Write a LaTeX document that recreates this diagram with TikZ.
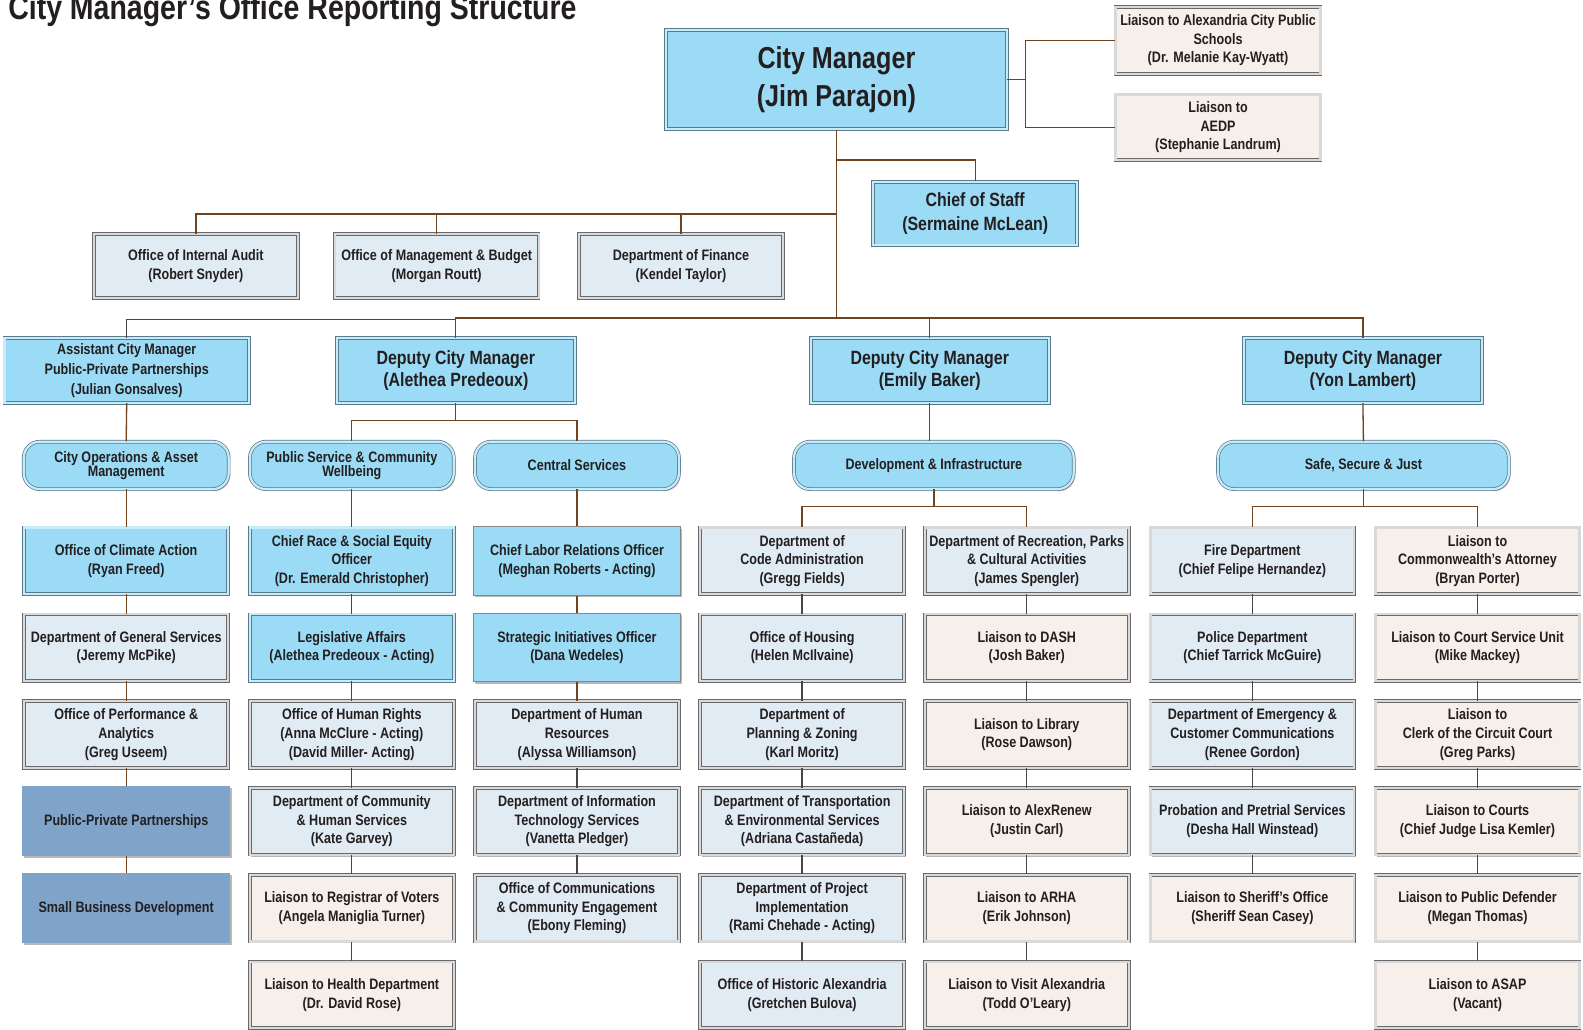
\documentclass[tikz,border=0pt]{standalone}
\usepackage{fontspec}
\setmainfont{Liberation Sans}[FakeStretch=0.83]
\usetikzlibrary{shadows}
\definecolor{sky}{RGB}{155,219,246}
\definecolor{pale}{RGB}{224,235,243}
\definecolor{beige}{RGB}{247,239,233}
\definecolor{steel}{RGB}{128,163,201}
\definecolor{bgrey}{RGB}{105,105,108}
\definecolor{bblue}{RGB}{90,122,142}
\definecolor{brn}{RGB}{112,66,30}
\definecolor{gline}{RGB}{70,70,72}
\definecolor{txt}{RGB}{35,31,32}
\tikzset{
  base/.style={rectangle, align=center, inner sep=0pt, text=txt,
    font=\bfseries\fontsize{15}{18.5}\selectfont,
    minimum width=202pt, minimum height=66pt,
    drop shadow={shadow xshift=1.5pt, shadow yshift=-2pt, opacity=0.28, fill=black}},
  dbl/.style={draw=bgrey, line width=0.7pt, double=gray!30, double distance=2.2pt},
  palebox/.style={base, dbl, fill=pale},
  beigebox/.style={base, dbl, fill=beige},
  skybox/.style={base, fill=sky, draw=bblue, line width=0.7pt, double=sky!55!white, double distance=2.2pt},
  skysingle/.style={base, fill=sky, draw=bgrey!80, line width=1pt},
  steelbox/.style={base, fill=steel, draw=none},
  rndbox/.style={base, rounded corners=16pt, fill=sky, draw=bblue, line width=0.7pt,
    double=sky!55!white, double distance=2.2pt, minimum height=47pt,
    font=\bfseries\fontsize{15}{14}\selectfont},
  conn/.style={draw=brn, line width=1.3pt},
  gconn/.style={draw=gline, line width=1.3pt},
}
\begin{document}
\begin{tikzpicture}[x=1pt,y=-1pt]
\fill[white] (0,0) rectangle (1568,1020);
\useasboundingbox (0,0) rectangle (1568,1020);

% title
\node[anchor=base west, inner sep=0pt, text=txt, font=\bfseries\fontsize{34}{34}\selectfont] (title) at (8,19) {City Manager’s Office Reporting Structure};

% top level
\node[skybox, minimum width=338pt, minimum height=98pt, font=\bfseries\fontsize{30}{37}\selectfont] (cm) at (828.5,79) {City Manager\\(Jim Parajon)};
\node[beigebox, minimum width=203pt, minimum height=66pt] (lacps) at (1206.5,40) {Liaison to Alexandria City Public\\Schools\\(Dr. Melanie Kay-Wyatt)};
\node[beigebox, minimum width=203pt, minimum height=65pt] (laedp) at (1206.5,126) {Liaison to\\AEDP\\(Stephanie Landrum)};
\node[skybox, minimum width=202pt, minimum height=63pt, font=\bfseries\fontsize{19}{23}\selectfont] (cos) at (966,211.5) {Chief of Staff\\(Sermaine McLean)};

\node[palebox, minimum width=202pt, minimum height=63pt] (audit) at (194,263.5) {Office of Internal Audit\\(Robert Snyder)};
\node[palebox, minimum width=202pt, minimum height=63pt] (omb) at (432.5,263.5) {Office of Management \& Budget\\(Morgan Routt)};
\node[palebox, minimum width=202pt, minimum height=63pt] (fin) at (674.5,263.5) {Department of Finance\\(Kendel Taylor)};

% second level
\node[skybox, minimum width=242pt, minimum height=64pt, font=\bfseries\fontsize{15}{20}\selectfont] (acm) at (125.5,367) {Assistant City Manager\\Public-Private Partnerships\\(Julian Gonsalves)};
\node[skybox, minimum width=236pt, minimum height=64pt, font=\bfseries\fontsize{19}{22.5}\selectfont] (dcma) at (451.5,367) {Deputy City Manager\\(Alethea Predeoux)};
\node[skybox, minimum width=236pt, minimum height=64pt, font=\bfseries\fontsize{19}{22.5}\selectfont] (dcmb) at (921,367) {Deputy City Manager\\(Emily Baker)};
\node[skybox, minimum width=236pt, minimum height=64pt, font=\bfseries\fontsize{19}{22.5}\selectfont] (dcmc) at (1350,367) {Deputy City Manager\\(Yon Lambert)};

% portfolio (rounded)
\node[rndbox, minimum width=203pt] (ops) at (125,461) {City Operations \& Asset\\Management};
\node[rndbox, minimum width=202pt] (psc) at (348.5,461) {Public Service \& Community\\Wellbeing};
\node[rndbox, minimum width=202pt] (csv) at (571.5,461) {Central Services};
\node[rndbox, minimum width=277pt] (dev) at (925,461) {Development \& Infrastructure};
\node[rndbox, minimum width=288pt] (ssj) at (1350.5,461) {Safe, Secure \& Just};

% column 1
\node[skybox] (a1) at (125,555.5) {Office of Climate Action\\(Ryan Freed)};
\node[palebox] (a2) at (125,641.5) {Department of General Services\\(Jeremy McPike)};
\node[palebox] (a3) at (125,727.5) {Office of Performance \&\\Analytics\\(Greg Useem)};
\node[steelbox, minimum width=206pt, minimum height=69pt] (a4) at (125,813.5) {Public-Private Partnerships};
\node[steelbox, minimum width=206pt, minimum height=69pt] (a5) at (125,899.5) {Small Business Development};

% column 2
\node[skybox] (b1) at (348.5,555.5) {Chief Race \& Social Equity\\Officer\\(Dr. Emerald Christopher)};
\node[skybox] (b2) at (348.5,641.5) {Legislative Affairs\\(Alethea Predeoux - Acting)};
\node[palebox] (b3) at (348.5,727.5) {Office of Human Rights\\(Anna McClure - Acting)\\(David Miller- Acting)};
\node[palebox] (b4) at (348.5,813.5) {Department of Community\\\& Human Services\\(Kate Garvey)};
\node[beigebox] (b5) at (348.5,899.5) {Liaison to Registrar of Voters\\(Angela Maniglia Turner)};
\node[beigebox] (b6) at (348.5,985.5) {Liaison to Health Department\\(Dr. David Rose)};

% column 3
\node[skysingle, minimum width=205pt, minimum height=68pt] (c1) at (571.5,555.5) {Chief Labor Relations Officer\\(Meghan Roberts - Acting)};
\node[skysingle, minimum width=205pt, minimum height=68pt] (c2) at (571.5,641.5) {Strategic Initiatives Officer\\(Dana Wedeles)};
\node[palebox] (c3) at (571.5,727.5) {Department of Human\\Resources\\(Alyssa Williamson)};
\node[palebox] (c4) at (571.5,813.5) {Department of Information\\Technology Services\\(Vanetta Pledger)};
\node[palebox] (c5) at (571.5,899.5) {Office of Communications\\\& Community Engagement\\(Ebony Fleming)};

% column 4
\node[palebox] (d1) at (794.5,555.5) {Department of\\Code Administration\\(Gregg Fields)};
\node[palebox] (d2) at (794.5,641.5) {Office of Housing\\(Helen McIlvaine)};
\node[palebox] (d3) at (794.5,727.5) {Department of\\Planning \& Zoning\\(Karl Moritz)};
\node[palebox] (d4) at (794.5,813.5) {Department of Transportation\\\& Environmental Services\\(Adriana Castañeda)};
\node[palebox] (d5) at (794.5,899.5) {Department of Project\\Implementation\\(Rami Chehade - Acting)};
\node[palebox] (d6) at (794.5,985.5) {Office of Historic Alexandria\\(Gretchen Bulova)};

% column 5
\node[palebox] (e1) at (1017,555.5) {Department of Recreation, Parks\\\& Cultural Activities\\(James Spengler)};
\node[beigebox] (e2) at (1017,641.5) {Liaison to DASH\\(Josh Baker)};
\node[beigebox] (e3) at (1017,727.5) {Liaison to Library\\(Rose Dawson)};
\node[beigebox] (e4) at (1017,813.5) {Liaison to AlexRenew\\(Justin Carl)};
\node[beigebox] (e5) at (1017,899.5) {Liaison to ARHA\\(Erik Johnson)};
\node[beigebox] (e6) at (1017,985.5) {Liaison to Visit Alexandria\\(Todd O’Leary)};

% column 6
\node[palebox] (f1) at (1240.5,555.5) {Fire Department\\(Chief Felipe Hernandez)};
\node[palebox] (f2) at (1240.5,641.5) {Police Department\\(Chief Tarrick McGuire)};
\node[palebox] (f3) at (1240.5,727.5) {Department of Emergency \&\\Customer Communications\\(Renee Gordon)};
\node[palebox] (f4) at (1240.5,813.5) {Probation and Pretrial Services\\(Desha Hall Winstead)};
\node[beigebox] (f5) at (1240.5,899.5) {Liaison to Sheriff’s Office\\(Sheriff Sean Casey)};

% column 7
\node[beigebox] (g1) at (1463.5,555.5) {Liaison to\\Commonwealth’s Attorney\\(Bryan Porter)};
\node[beigebox] (g2) at (1463.5,641.5) {Liaison to Court Service Unit\\(Mike Mackey)};
\node[beigebox] (g3) at (1463.5,727.5) {Liaison to\\Clerk of the Circuit Court\\(Greg Parks)};
\node[beigebox] (g4) at (1463.5,813.5) {Liaison to Courts\\(Chief Judge Lisa Kemler)};
\node[beigebox] (g5) at (1463.5,899.5) {Liaison to Public Defender\\(Megan Thomas)};
\node[beigebox] (g6) at (1463.5,985.5) {Liaison to ASAP\\(Vacant)};

% ---------- connectors ----------
\coordinate (busA) at (828.5,212);
\coordinate (busB) at (828.5,315);
\draw[conn] (cm.east) -- ++(18,0) |- (lacps.west);
\draw[conn] (cm.east) -- ++(18,0) |- (laedp.west);
\draw[conn] (cm.south) -- ++(0,30) -| (cos.north);
\draw[conn] (cm.south) -- (busB);
\draw[conn] (busA) -| (audit.north);
\draw[conn] (busA) -| (omb.north);
\draw[conn] (busA) -| (fin.north);
\draw[conn] (busB) -| (dcma.north);
\draw[conn] (busB) -| (dcmb.north);
\draw[conn] (busB) -| (dcmc.north);
\draw[gconn] (dcma.north) ++(0,-18) -| (acm.north);

\draw[conn] (acm.south) -- (ops.north);
\draw[conn] (dcma.south) -- ++(0,17) -| (psc.north);
\draw[conn] (dcma.south) -- ++(0,17) -| (csv.north);
\draw[conn] (dcmb.south) -- (dcmb.south |- dev.north);
\draw[conn] (dcmc.south) -- (ssj.north);
\draw[conn] (dev.south) -- ++(0,17) -| (d1.north);
\draw[conn] (dev.south) -- ++(0,17) -| (e1.north);
\draw[conn] (ssj.south) -- ++(0,17) -| (f1.north);
\draw[conn] (ssj.south) -- ++(0,17) -| (g1.north);

\draw[conn] (ops.south) -- (a1.north);
\draw[conn] (psc.south) -- (b1.north);
\draw[conn] (csv.south) -- (c1.north);

\draw[conn] (a1) -- (a2);
\draw[conn] (a2) -- (a3);
\draw[conn] (a3) -- (a4);
\draw[conn] (a4) -- (a5);
\draw[gconn] (b1) -- (b2);
\draw[gconn] (b2) -- (b3);
\draw[gconn] (b3) -- (b4);
\draw[gconn] (b4) -- (b5);
\draw[gconn] (b5) -- (b6);
\draw[conn] (c1) -- (c2);
\draw[conn] (c2) -- (c3);
\draw[gconn] (c3) -- (c4);
\draw[gconn] (c4) -- (c5);
\draw[gconn] (d1) -- (d2);
\draw[gconn] (d2) -- (d3);
\draw[gconn] (d3) -- (d4);
\draw[gconn] (d4) -- (d5);
\draw[gconn] (d5) -- (d6);
\draw[gconn] (e1) -- (e2);
\draw[gconn] (e2) -- (e3);
\draw[gconn] (e3) -- (e4);
\draw[gconn] (e4) -- (e5);
\draw[gconn] (e5) -- (e6);
\draw[gconn] (f1) -- (f2);
\draw[gconn] (f2) -- (f3);
\draw[gconn] (f3) -- (f4);
\draw[gconn] (f4) -- (f5);
\draw[gconn] (g1) -- (g2);
\draw[gconn] (g2) -- (g3);
\draw[gconn] (g3) -- (g4);
\draw[gconn] (g4) -- (g5);
\draw[gconn] (g5) -- (g6);
\end{tikzpicture}
\end{document}
